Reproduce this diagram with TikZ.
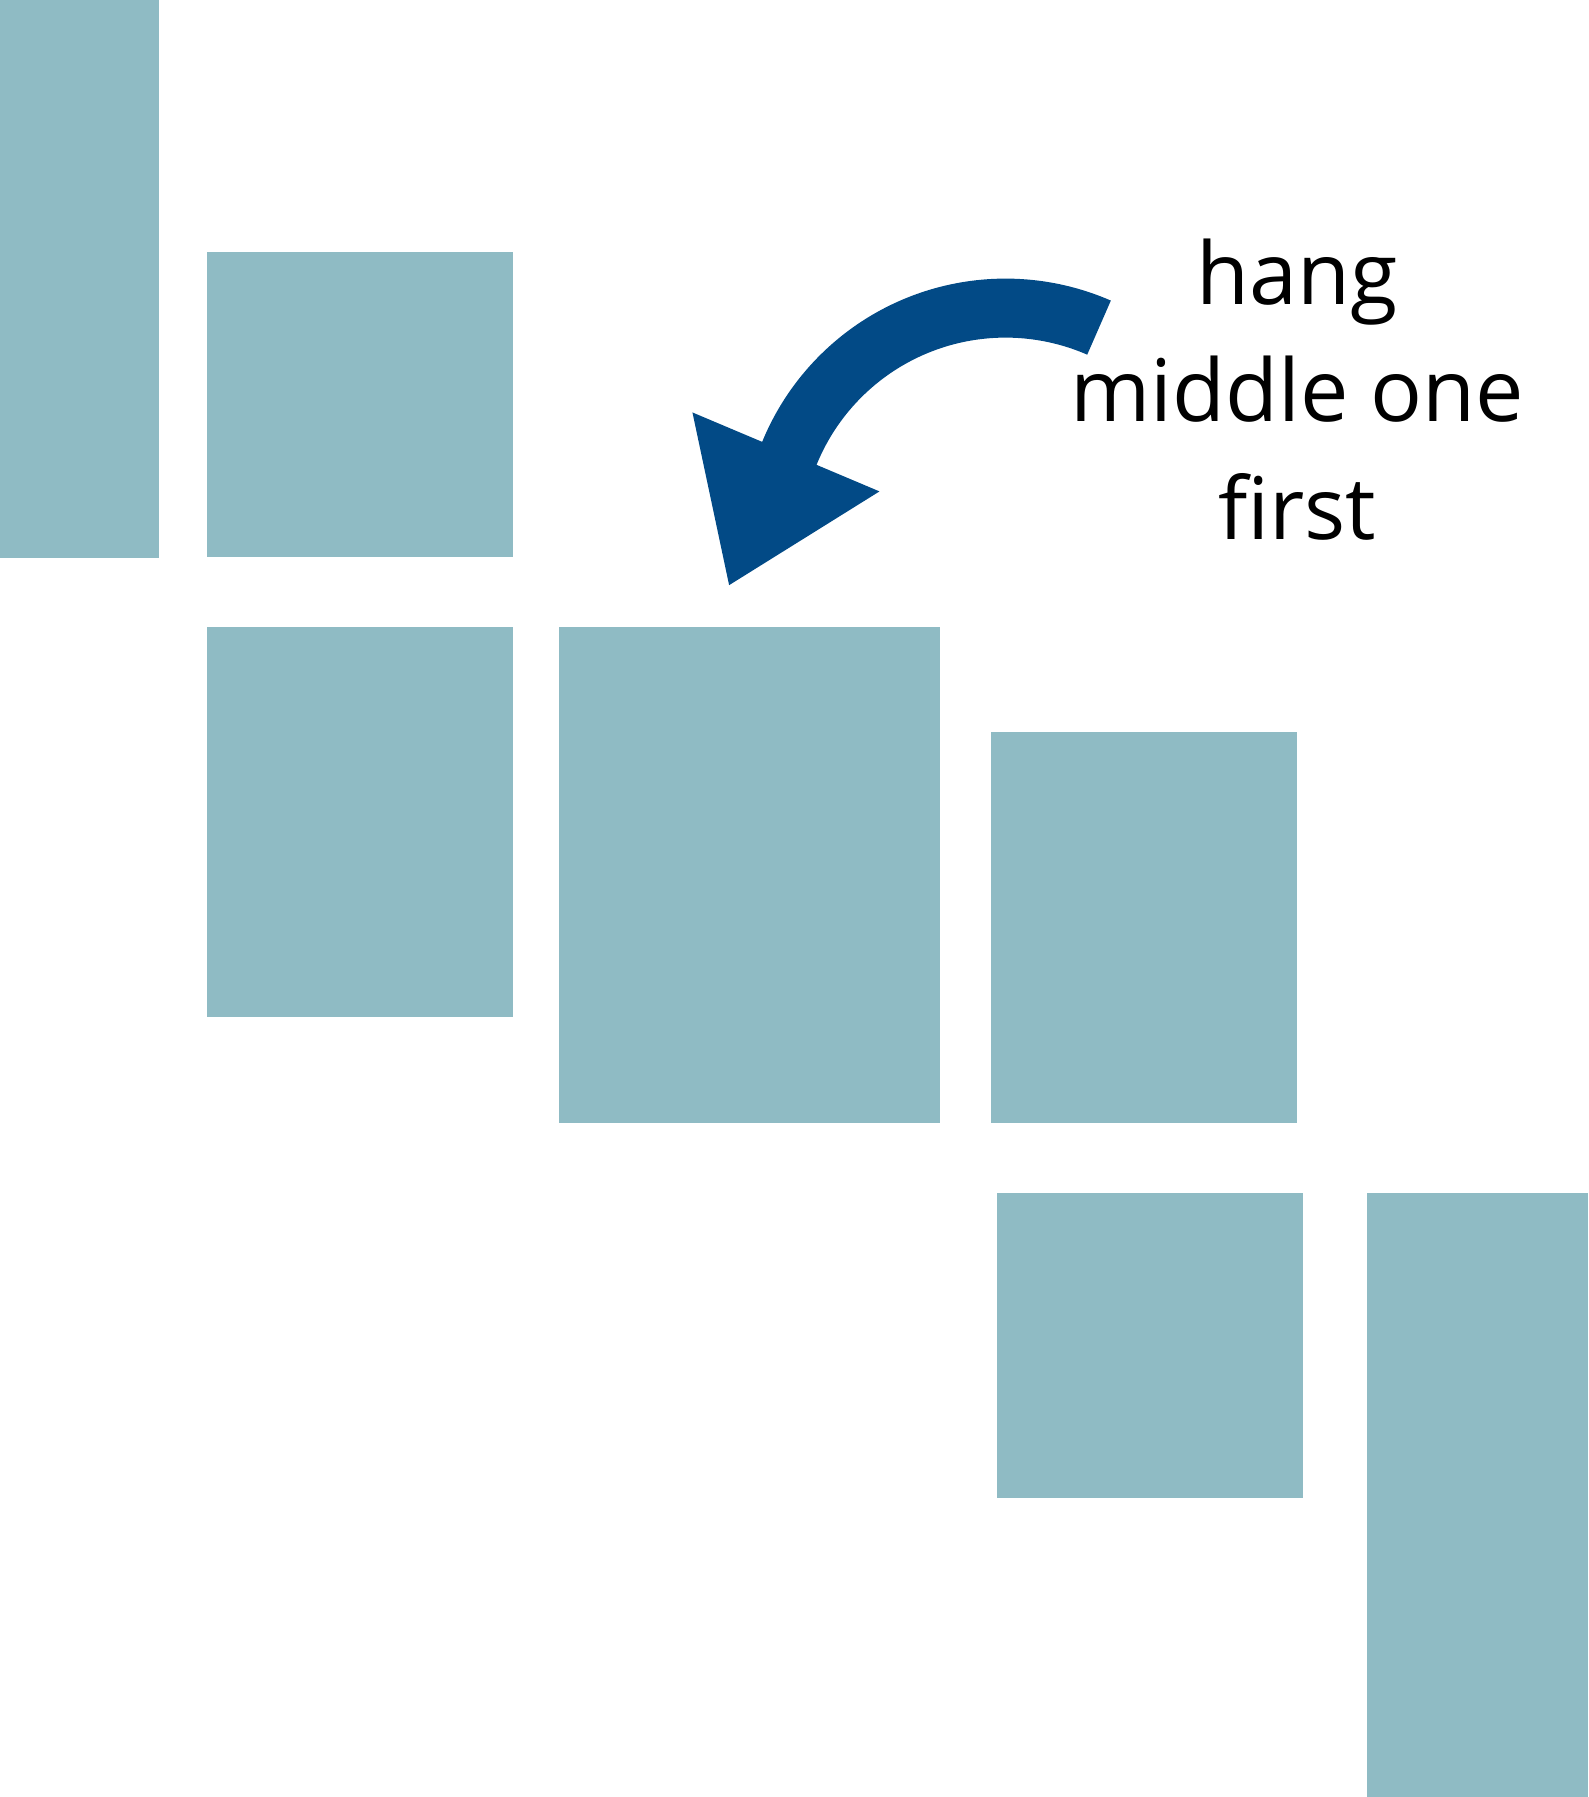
\documentclass[tikz,border=0pt]{standalone}
\usepackage{fontspec}
\setmainfont{Open Sans}
\usetikzlibrary{calc}
\definecolor{tealbox}{HTML}{8FBBC4}
\definecolor{arrowblue}{HTML}{024A86}
\begin{document}
\begin{tikzpicture}[x=1pt,y=1pt,
  box/.style={fill=tealbox},
  lbl/.style={anchor=base, inner sep=0pt, font=\fontsize{75.3}{101}\selectfont, text=black}]
\useasboundingbox (0,0) rectangle (1386,1568);
% boxes
\fill[box] (0,1568) rectangle (139,1081);
\fill[box] (181,1348) rectangle (448,1082);
\fill[box] (181,1021) rectangle (448,681);
\fill[box] (488,1021) rectangle (820,588);
\fill[box] (865,929) rectangle (1132,588);
\fill[box] (870,527) rectangle (1137,261);
\fill[box] (1193,527) rectangle (1386,0);
% curved arrow
\coordinate (C) at (877.4,1095.4);
\coordinate (b1) at (604.2,1208.1);
\coordinate (b2) at (767.4,1139.2);
\coordinate (tip) at (636.2,1057.4);
\fill[arrowblue] ($(C)+(66.4:229.5)$) arc[start angle=66.4,end angle=159,radius=229.5]
  -- ($(C)+(159:178)$) arc[start angle=159,end angle=66.4,radius=178] -- cycle;
\fill[arrowblue] (b1) -- (b2) -- (tip) -- cycle;
% label
\node[lbl] (t1) at (1132,1302) {hang};
\node[lbl] (t2) at (1132,1200) {middle one};
\node[lbl] (t3) at (1132,1097) {first};
\end{tikzpicture}
\end{document}
